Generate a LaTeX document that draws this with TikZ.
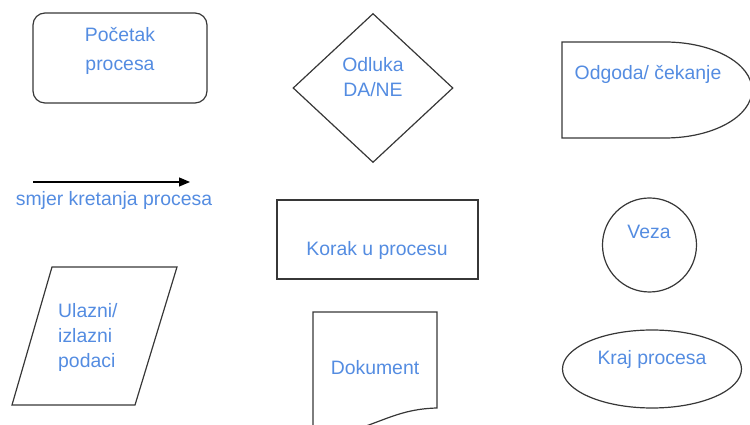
\documentclass[tikz,border=0pt]{standalone}
\usepackage{fontspec}
\setmainfont{Liberation Sans}
\usepackage{xcolor}
\definecolor{Plava}{RGB}{84,140,225}
\definecolor{Rub}{RGB}{55,55,55}
\usetikzlibrary{positioning, arrows.meta, shapes.geometric}

\begin{document}
\begin{tikzpicture}[
  x=1pt, y=1pt,
  font=\fontsize{19.4}{25}\selectfont,
  rub/.style={draw=Rub, line width=1.2pt},
  okvir/.style={rub, inner sep=0pt},
  txt/.style={text=Plava, align=center, inner sep=0pt},
  arr/.style={-{Triangle[length=11pt, width=9pt]}, line width=1.2pt}
]
\useasboundingbox (0,0) rectangle (750,425);

% prvi stupac
\node[okvir, rounded corners=12pt, minimum width=174pt,
      minimum height=90pt] (pocetak) at (120,367) {};
\node[txt, font=\fontsize{19.4}{29}\selectfont] (pocetakT) at (120,374) {Početak\\procesa};

\coordinate (smjerA) at (33,243);
\coordinate (smjerB) at (190,243);
\draw[arr] (smjerA) -- (smjerB);
\node[txt] (smjerT) at (114,225) {smjer kretanja procesa};

\draw[rub] (12,20) -- (135,20) -- (177,158) -- (52,158) -- cycle;
\node[txt, align=left, anchor=west] (podaciT) at (58,88) {Ulazni/\\izlazni\\podaci};

% drugi stupac
\node[okvir, diamond, minimum width=160pt, minimum height=149pt] (odluka) at (373,337) {};
\node[txt] (odlukaT) at (373,348) {Odluka\\DA/NE};

\node[okvir, rectangle, minimum width=201pt, minimum height=79pt] (korak) at (377.5,185.5) {};
\node[txt] (korakT) at (377,175) {Korak u procesu};

\draw[rub] (313,113) -- (437,113) -- (437,17)
  .. controls (400,16) and (385,4) .. (345,-8) -- (313,-8) -- cycle;
\node[txt] (dokumentT) at (375,57) {Dokument};

% treci stupac
\draw[rub] (665,383) -- (562,383) -- (562,287) -- (665,287)
  arc[start angle=-90, end angle=90, x radius=87, y radius=48] -- cycle;
\node[txt] (odgodaT) at (648,351) {Odgoda/ čekanje};

\node[okvir, circle, minimum size=94pt] (veza) at (649.5,180) {};
\node[txt] (vezaT) at (649,193) {Veza};

\node[okvir, ellipse, minimum width=179pt, minimum height=78pt] (kraj) at (652,56) {};
\node[txt] (krajT) at (652,66) {Kraj procesa};
\end{tikzpicture}
\end{document}
